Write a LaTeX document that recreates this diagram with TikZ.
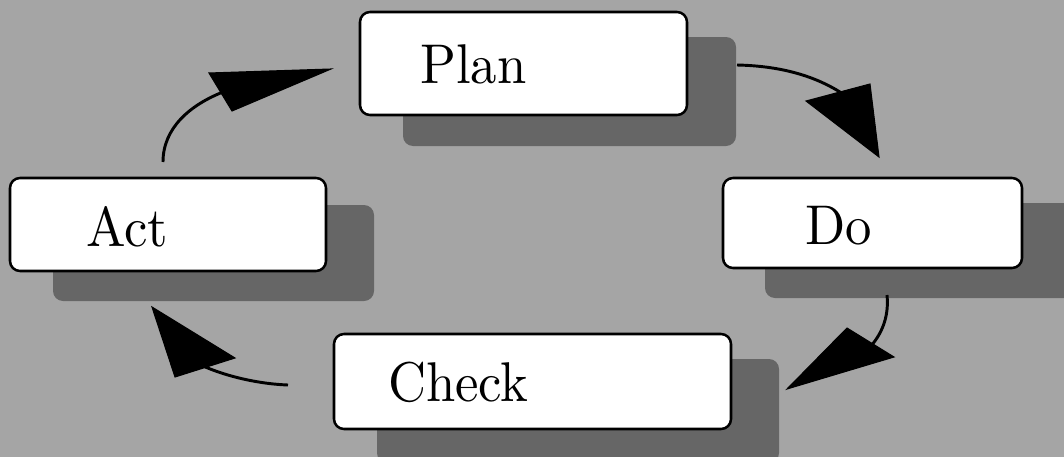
\documentclass[tikz,border=0pt]{standalone}
\usepackage{graphicx}
\definecolor{bggray}{HTML}{A5A5A5}
\definecolor{shgray}{HTML}{666666}
\newcommand{\stagetext}[1]{\scalebox{3.95}[4.2]{\fontsize{10}{12}\selectfont #1}}
\begin{document}
\begin{tikzpicture}[x=0.75pt,y=-0.75pt,
  stagebox/.style={draw=black,line width=1.9pt,fill=white,rounded corners=7.5pt,inner sep=0pt},
  shadowbox/.style={fill=shgray,rounded corners=7.5pt,inner sep=0pt},
  stagelabel/.style={anchor=base west,inner sep=0pt},
  flow/.style={line width=2.2pt},
  head/.style={fill=black,draw=black,line width=0.8pt,line join=miter}]
\fill[bggray] (0,0) rectangle (1064,457);
\useasboundingbox (0,0) rectangle (1064,457);
% shadows
\node[shadowbox,minimum width=333*0.75pt,minimum height=109*0.75pt] (planS) at (569.5,91.5) {};
\node[shadowbox,minimum width=321*0.75pt,minimum height=96*0.75pt] (actS) at (213.5,253) {};
\node[shadowbox,minimum width=320*0.75pt,minimum height=95*0.75pt] (doS) at (925,250.5) {};
\node[shadowbox,minimum width=402*0.75pt,minimum height=104*0.75pt] (checkS) at (578,411) {};
% boxes
\node[stagebox,minimum width=327*0.75pt,minimum height=103*0.75pt] (plan) at (523.5,63.5) {};
\node[stagebox,minimum width=316*0.75pt,minimum height=93*0.75pt] (act) at (168,224.5) {};
\node[stagebox,minimum width=299*0.75pt,minimum height=90*0.75pt] (do) at (872.5,223) {};
\node[stagebox,minimum width=397*0.75pt,minimum height=95*0.75pt] (check) at (532.5,381.5) {};
% labels
\node[stagelabel] (planT) at (420,83) {\stagetext{Plan}};
\node[stagelabel] (actT) at (86,246) {\stagetext{Act}};
\node[stagelabel] (doT) at (805,244) {\stagetext{Do}};
\node[stagelabel] (checkT) at (388,401) {\stagetext{Check}};
% connector ends
\coordinate (pdA) at (737,65);
\coordinate (pdB) at (846,96);
\coordinate (dcA) at (887,295);
\coordinate (dcB) at (871,346);
\coordinate (caA) at (288,385);
\coordinate (caB) at (203,366);
\coordinate (apA) at (163,162);
\coordinate (apB) at (223,92);
% connectors
\draw[flow] (pdA) .. controls (785,66) and (820,78) .. (pdB);
\fill[head] (806,101) -- (870,84) -- (879,157) -- cycle;
\draw[flow] (dcA) .. controls (889,315) and (883,332) .. (dcB);
\fill[head] (847,328) -- (894,357) -- (787,389) -- cycle;
\draw[flow] (caA) .. controls (260,384) and (228,377) .. (caB);
\fill[head] (152,307) -- (235,358) -- (175,377) -- cycle;
\draw[flow] (apA) .. controls (163,128) and (190,105) .. (apB);
\fill[head] (209,73) -- (331,69) -- (232,111) -- cycle;
\end{tikzpicture}
\end{document}
